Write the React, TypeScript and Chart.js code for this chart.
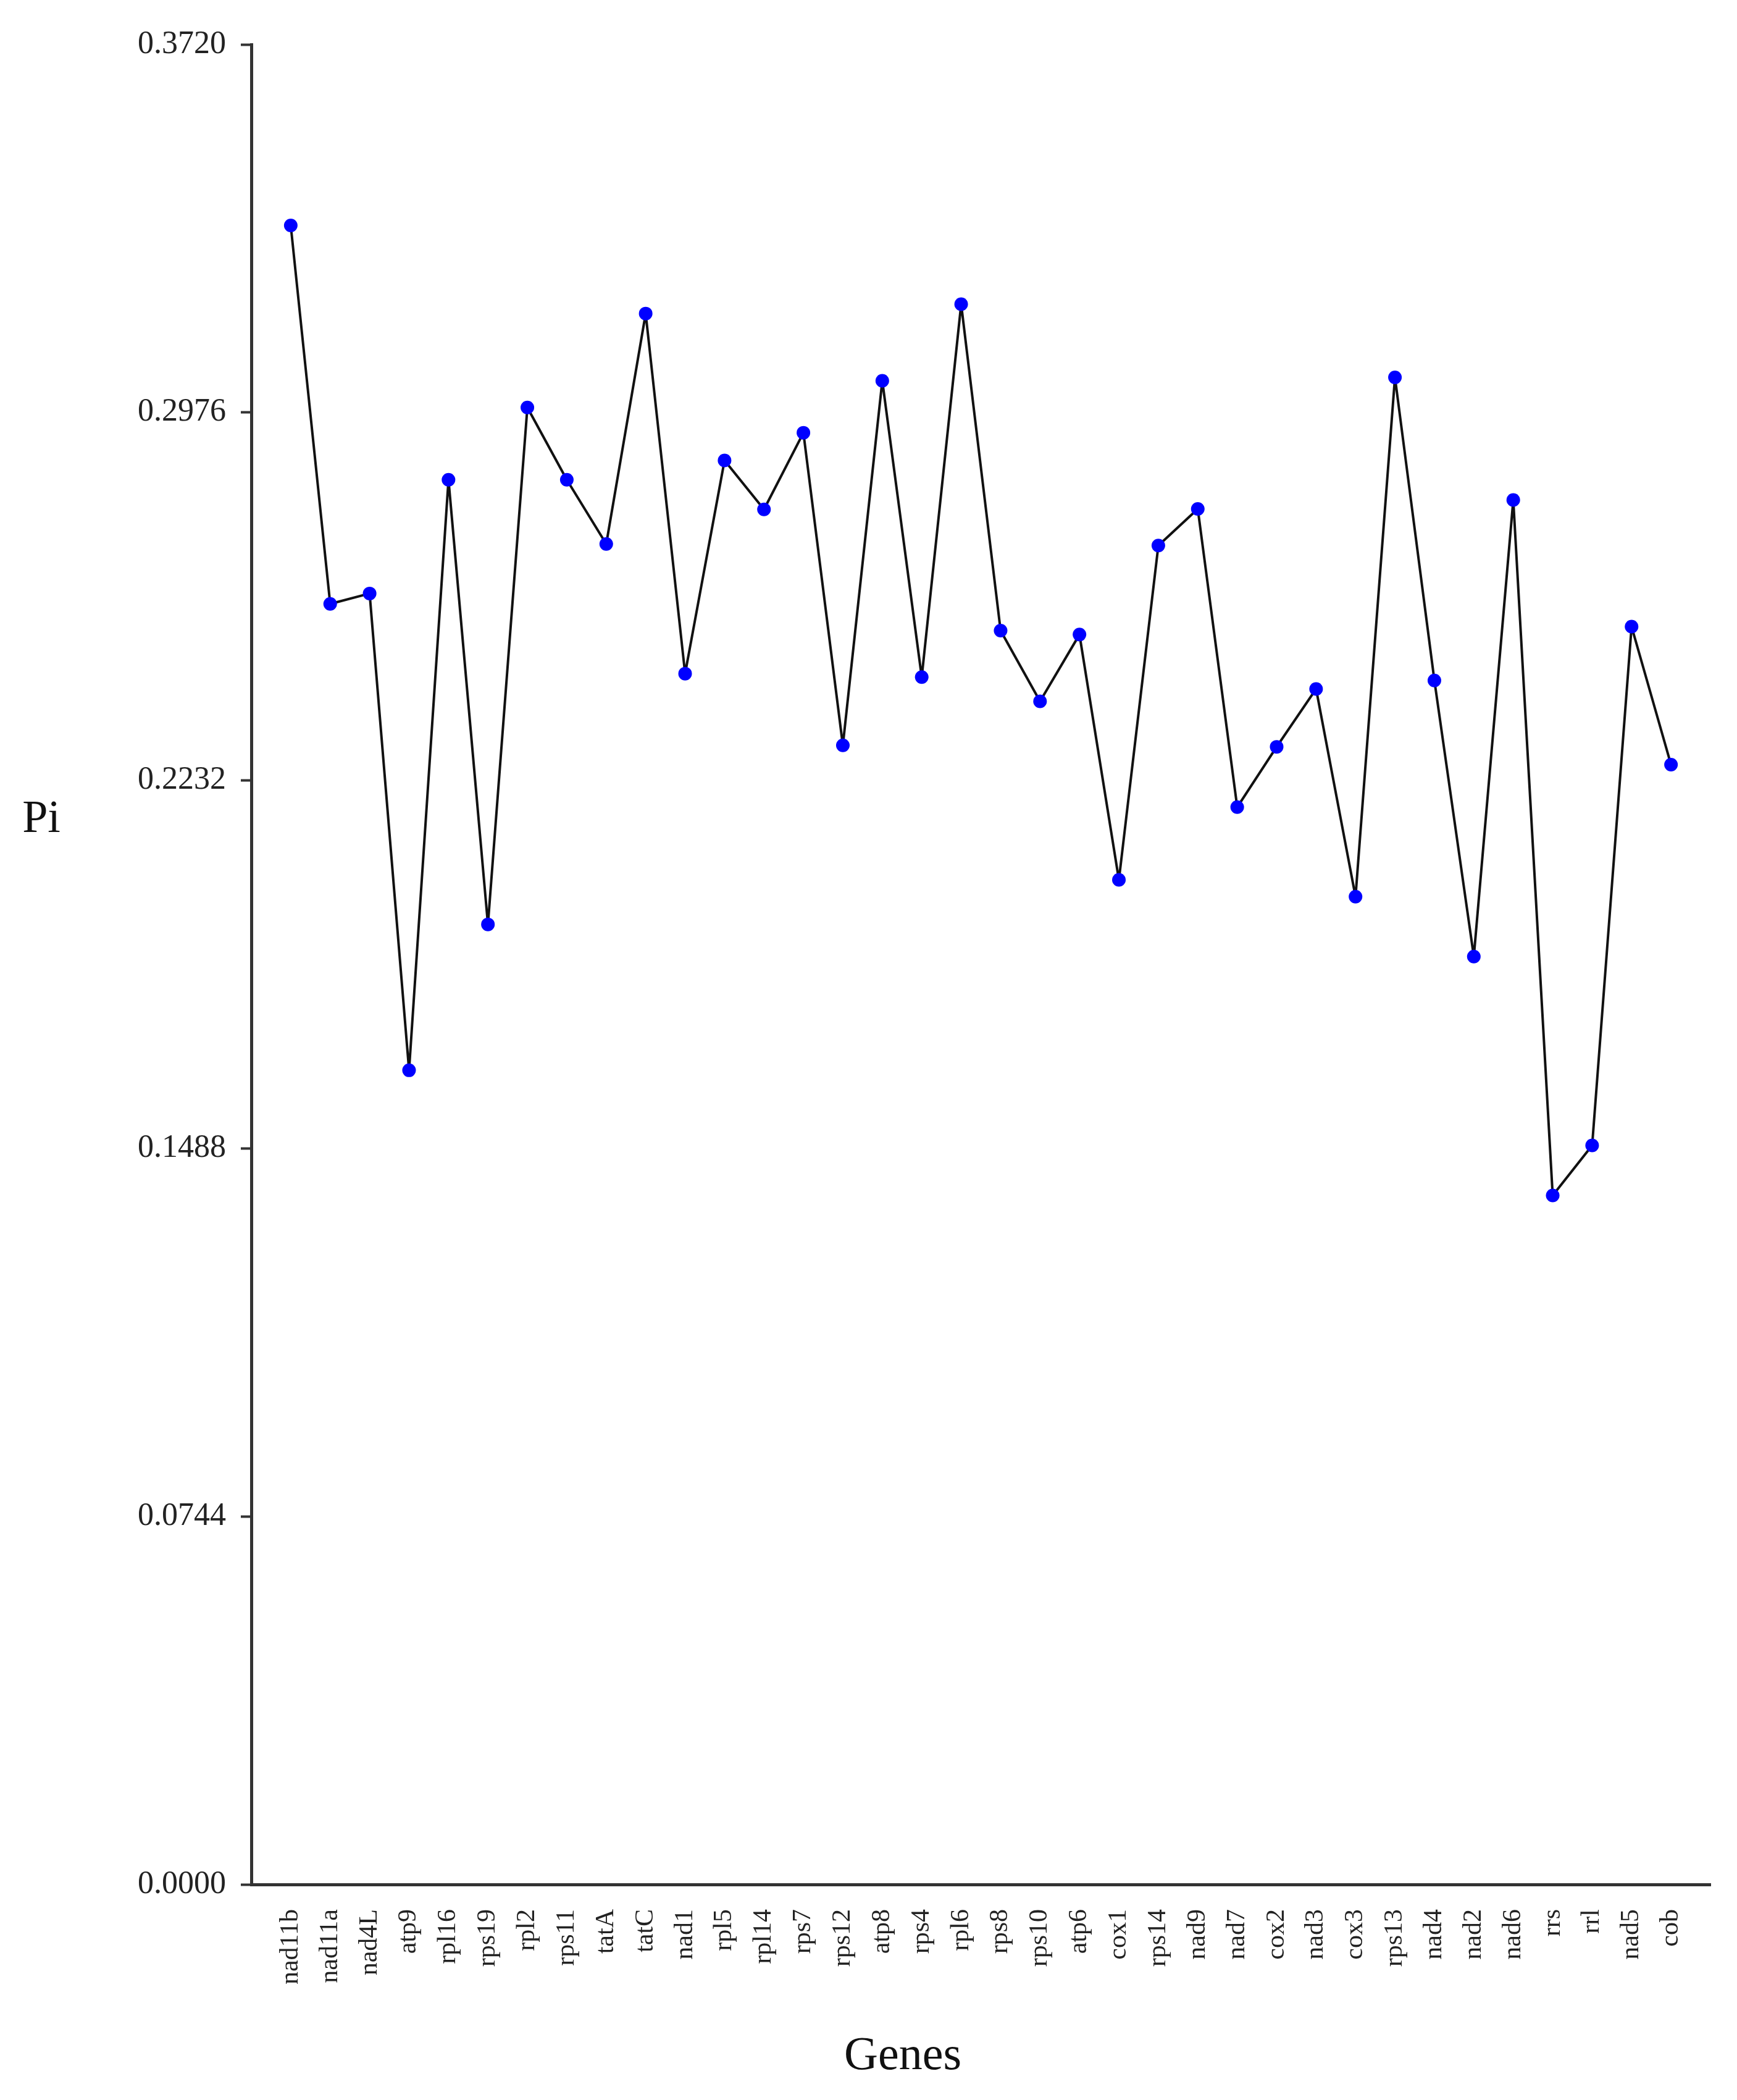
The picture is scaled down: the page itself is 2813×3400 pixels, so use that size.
import React, { useEffect, useRef } from "react";
import { Chart, registerables } from "chart.js";

Chart.register(...registerables);

const genes: string[] = [
  "nad11b", "nad11a", "nad4L", "atp9", "rpl16", "rps19", "rpl2", "rps11", "tatA", "tatC",
  "nad1", "rpl5", "rpl14", "rps7", "rps12", "atp8", "rps4", "rpl6", "rps8", "rps10",
  "atp6", "cox1", "rps14", "nad9", "nad7", "cox2", "nad3", "cox3", "rps13", "nad4",
  "nad2", "nad6", "rrs", "rrl", "nad5", "cob",
];

const piValues: number[] = [
  0.3354, 0.2589, 0.2610, 0.1646, 0.2840, 0.1941, 0.2986, 0.2840, 0.2710, 0.3176,
  0.2448, 0.2879, 0.2780, 0.2935, 0.2303, 0.3040, 0.2441, 0.3195, 0.2535, 0.2392,
  0.2527, 0.2031, 0.2707, 0.2781, 0.2178, 0.2300, 0.2417, 0.1997, 0.3047, 0.2434,
  0.1876, 0.2799, 0.1393, 0.1494, 0.2543, 0.2264,
];

const yTickValues: number[] = [0, 0.0744, 0.1488, 0.2232, 0.2976, 0.372];

const xTitle = "Genes";
const yTitle = "Pi";

const FONT = "'Liberation Serif', 'Times New Roman', serif";

export default function App() {
  const canvasRef = useRef<HTMLCanvasElement | null>(null);

  useEffect(() => {
    const canvas = canvasRef.current;
    if (!canvas) return;

    const titlePlugin = {
      id: "freeTitles",
      afterDraw(chart: any) {
        const ctx = chart.ctx;
        ctx.save();
        ctx.fillStyle = "#111";
        ctx.font = `74px ${FONT}`;
        ctx.textAlign = "center";
        ctx.textBaseline = "alphabetic";
        ctx.fillText(yTitle, 67, 1347);
        ctx.font = `76px ${FONT}`;
        ctx.fillText(xTitle, 1462, 3350);
        ctx.restore();
      },
    };

    const chart = new Chart(canvas, {
      type: "line",
      data: {
        datasets: [
          {
            data: piValues.map((v, i) => ({ x: i, y: v })),
            borderColor: "#111",
            borderWidth: 4,
            borderJoinStyle: "round",
            borderCapStyle: "round",
            pointBackgroundColor: "#0000ff",
            pointBorderColor: "#0000ff",
            pointBorderWidth: 0,
            pointRadius: 11,
            tension: 0,
            fill: false,
          },
        ],
      },
      options: {
        animation: false,
        responsive: false,
        maintainAspectRatio: false,
        devicePixelRatio: 1,
        layout: { padding: { top: 72, right: 43, left: 0, bottom: 0 } },
        plugins: {
          legend: { display: false },
          tooltip: { enabled: false },
          title: { display: false },
        },
        scales: {
          x: {
            type: "linear",
            min: -1,
            max: 36,
            afterBuildTicks: (scale: any) => {
              scale.ticks = genes.map((_, i) => ({ value: i }));
            },
            afterFit: (scale: any) => {
              scale.height = 3400 - 3051;
            },
            grid: { display: true, drawOnChartArea: false, drawTicks: false, color: "transparent" },
            border: { display: true, color: "#333", width: 5 },
            ticks: {
              autoSkip: false,
              maxRotation: 90,
              minRotation: 90,
              padding: 40,
              color: "#222",
              font: { family: FONT, size: 42 },
              callback: (value: any) => genes[Number(value)] ?? "",
            },
          },
          y: {
            type: "linear",
            min: 0,
            max: 0.372,
            afterBuildTicks: (scale: any) => {
              scale.ticks = yTickValues.map((v) => ({ value: v }));
            },
            afterFit: (scale: any) => {
              scale.width = 407;
            },
            grid: {
              display: true,
              drawOnChartArea: false,
              drawTicks: true,
              tickLength: 17,
              tickColor: "#333",
              tickWidth: 4,
              color: "#333",
            },
            border: { display: true, color: "#333", width: 5 },
            ticks: {
              padding: 24,
              color: "#222",
              font: { family: FONT, size: 52 },
              callback: (value: any) => Number(value).toFixed(4),
            },
          },
        },
      },
      plugins: [titlePlugin],
    });

    return () => {
      chart.destroy();
    };
  }, []);

  return (
    <div style={{ position: "absolute", left: 0, top: 0, width: 2813, height: 3400, background: "#fff" }}>
      <canvas ref={canvasRef} width={2813} height={3400} style={{ width: 2813, height: 3400, display: "block" }} />
    </div>
  );
}
